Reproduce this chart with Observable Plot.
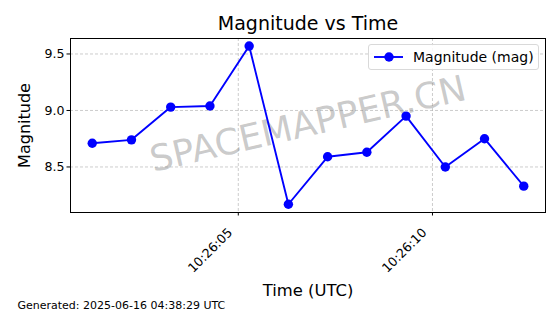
<!DOCTYPE html>
<html>
<head>
<meta charset="utf-8">
<script src="https://cdn.jsdelivr.net/npm/d3@7"></script>
<script src="https://cdn.jsdelivr.net/npm/@observablehq/plot@0.6"></script>
<style>
  html, body { margin: 0; padding: 0; background: #fff; }
  #wrap { position: relative; width: 560px; height: 314px; font-family: "DejaVu Sans", sans-serif; }
  #legend { position: absolute; left: 368px; top: 44px; width: 171px; height: 26px; box-sizing: border-box;
    border: 1px solid #d9d9d9; border-radius: 3px; background: rgba(255,255,255,0.85);
    display: flex; align-items: center; font-size: 14px; color: #000; white-space: nowrap; }
  #legend svg { margin-left: 5px; margin-right: 10px; }
</style>
</head>
<body>
<div id="wrap"></div>
<script>
const times = [
  "2025-06-16T10:26:01.24Z", "2025-06-16T10:26:02.25Z", "2025-06-16T10:26:03.26Z",
  "2025-06-16T10:26:04.27Z", "2025-06-16T10:26:05.28Z", "2025-06-16T10:26:06.29Z",
  "2025-06-16T10:26:07.30Z", "2025-06-16T10:26:08.31Z", "2025-06-16T10:26:09.32Z",
  "2025-06-16T10:26:10.33Z", "2025-06-16T10:26:11.34Z", "2025-06-16T10:26:12.35Z"
];
const magnitudes = [8.71, 8.74, 9.03, 9.04, 9.57, 8.17, 8.59, 8.63, 8.95, 8.50, 8.75, 8.33];
const xTicks = ["2025-06-16T10:26:05Z", "2025-06-16T10:26:10Z"];
const yTicks = [8.5, 9.0, 9.5];
const title = "Magnitude vs Time";
const xLabel = "Time (UTC)";
const yLabel = "Magnitude";
const seriesName = "Magnitude (mag)";
const footer = "Generated: 2025-06-16 04:38:29 UTC";
const watermark = "SPACEMAPPER.CN";

const data = times.map((t, i) => ({time: new Date(t), mag: magnitudes[i]}));
const xt = xTicks.map(t => new Date(t));
const xDomain = [new Date("2025-06-16T10:26:00.68Z"), new Date("2025-06-16T10:26:12.91Z")];
const blue = "#0000ff";
const fmt = d3.utcFormat("%H:%M:%S");

const chart = Plot.plot({
  width: 560,
  height: 314,
  marginLeft: 70,
  marginRight: 15,
  marginTop: 38,
  marginBottom: 102,
  style: {fontFamily: "DejaVu Sans, sans-serif", background: "#fff", color: "#000"},
  x: {type: "utc", domain: xDomain},
  y: {domain: [8.097, 9.637]},
  marks: [
    Plot.gridX(xt, {stroke: "#b0b0b0", strokeOpacity: 0.8, strokeDasharray: "3,2", strokeWidth: 0.8}),
    Plot.gridY(yTicks, {stroke: "#b0b0b0", strokeOpacity: 0.8, strokeDasharray: "3,2", strokeWidth: 0.8}),
    Plot.text([watermark], {frameAnchor: "middle", rotate: -13, fontSize: 36, fill: "#808080", fillOpacity: 0.42, dy: -1}),
    Plot.line(data, {x: "time", y: "mag", stroke: blue, strokeWidth: 1.9}),
    Plot.dot(data, {x: "time", y: "mag", fill: blue, r: 4.7}),
    Plot.frame({stroke: "#000", strokeWidth: 1}),
    Plot.axisX(xt, {tickFormat: () => "", tickSize: 3.5, label: null}),
    Plot.text(xt, {x: d => d, frameAnchor: "bottom", text: d => fmt(d), rotate: -45, textAnchor: "end", lineAnchor: "middle", dx: -8, dy: 18, fontSize: 12.6, fill: "#000"}),
    Plot.axisY(yTicks, {tickFormat: d3.format(".1f"), tickSize: 3.5, tickPadding: 2.5, fontSize: 12.6, label: null}),
    Plot.text([title], {frameAnchor: "top", lineAnchor: "middle", textAnchor: "middle", dy: -15, fontSize: 19, fill: "#000"}),
    Plot.text([yLabel], {frameAnchor: "left", lineAnchor: "middle", textAnchor: "middle", dx: -46, rotate: -90, fontSize: 16, fill: "#000"}),
    Plot.text([xLabel], {frameAnchor: "bottom", lineAnchor: "middle", textAnchor: "middle", dy: 78, fontSize: 16.4, fill: "#000"}),
    Plot.text([footer], {frameAnchor: "bottom-left", lineAnchor: "middle", dx: -53, dy: 93, textAnchor: "start", fontSize: 11, fill: "#000"})
  ]
});
const wrap = document.getElementById("wrap");
wrap.appendChild(chart);

const legend = document.createElement("div");
legend.id = "legend";
legend.innerHTML = `<svg width="29" height="12"><line x1="0" y1="6" x2="29" y2="6" stroke="${blue}" stroke-width="1.9"/><circle cx="15" cy="6" r="4.7" fill="${blue}"/></svg><span></span>`;
legend.querySelector("span").textContent = seriesName;
wrap.appendChild(legend);
</script>
</body>
</html>
